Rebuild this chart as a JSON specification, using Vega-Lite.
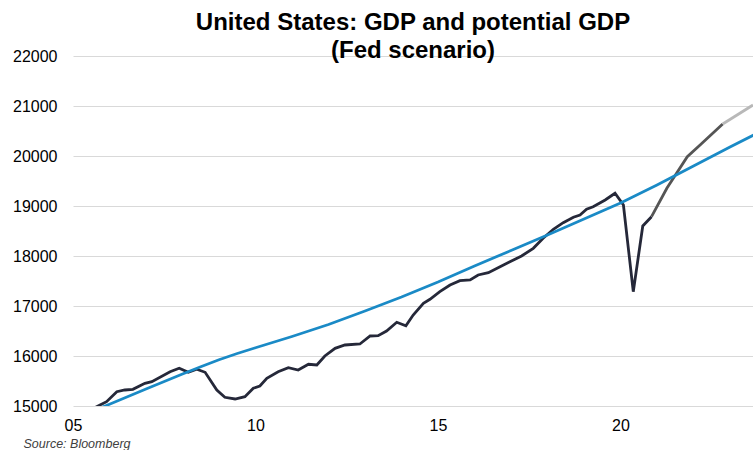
{
  "$schema": "https://vega.github.io/schema/vega-lite/v6.json",
  "width": 680,
  "height": 350,
  "autosize": {"type": "none"},
  "padding": {"left": 73, "top": 56, "right": 0, "bottom": 44},
  "background": "white",
  "title": {
    "text": ["United States: GDP and potential GDP", "(Fed scenario)"],
    "font": "Liberation Sans",
    "fontSize": 24,
    "fontWeight": "bold",
    "color": "#000000",
    "anchor": "middle",
    "lineHeight": 28,
    "offset": -15
  },
  "config": {
    "view": {"stroke": null}
  },
  "data": {
    "values": [
      {"t": 2005.5, "v": 14930, "s": "actual"},
      {"t": 2005.74, "v": 15020, "s": "actual"},
      {"t": 2005.92, "v": 15086, "s": "actual"},
      {"t": 2006.2, "v": 15286, "s": "actual"},
      {"t": 2006.42, "v": 15320, "s": "actual"},
      {"t": 2006.64, "v": 15334, "s": "actual"},
      {"t": 2006.97, "v": 15454, "s": "actual"},
      {"t": 2007.16, "v": 15486, "s": "actual"},
      {"t": 2007.66, "v": 15686, "s": "actual"},
      {"t": 2007.91, "v": 15754, "s": "actual"},
      {"t": 2008.16, "v": 15674, "s": "actual"},
      {"t": 2008.39, "v": 15734, "s": "actual"},
      {"t": 2008.62, "v": 15674, "s": "actual"},
      {"t": 2008.94, "v": 15320, "s": "actual"},
      {"t": 2009.16, "v": 15174, "s": "actual"},
      {"t": 2009.44, "v": 15140, "s": "actual"},
      {"t": 2009.71, "v": 15186, "s": "actual"},
      {"t": 2009.94, "v": 15354, "s": "actual"},
      {"t": 2010.12, "v": 15400, "s": "actual"},
      {"t": 2010.31, "v": 15554, "s": "actual"},
      {"t": 2010.62, "v": 15686, "s": "actual"},
      {"t": 2010.9, "v": 15766, "s": "actual"},
      {"t": 2011.17, "v": 15720, "s": "actual"},
      {"t": 2011.45, "v": 15834, "s": "actual"},
      {"t": 2011.68, "v": 15820, "s": "actual"},
      {"t": 2011.9, "v": 16000, "s": "actual"},
      {"t": 2012.18, "v": 16154, "s": "actual"},
      {"t": 2012.45, "v": 16220, "s": "actual"},
      {"t": 2012.86, "v": 16240, "s": "actual"},
      {"t": 2013.14, "v": 16400, "s": "actual"},
      {"t": 2013.36, "v": 16406, "s": "actual"},
      {"t": 2013.59, "v": 16500, "s": "actual"},
      {"t": 2013.87, "v": 16674, "s": "actual"},
      {"t": 2014.12, "v": 16606, "s": "actual"},
      {"t": 2014.32, "v": 16820, "s": "actual"},
      {"t": 2014.6, "v": 17054, "s": "actual"},
      {"t": 2014.78, "v": 17134, "s": "actual"},
      {"t": 2015.05, "v": 17286, "s": "actual"},
      {"t": 2015.33, "v": 17420, "s": "actual"},
      {"t": 2015.6, "v": 17506, "s": "actual"},
      {"t": 2015.88, "v": 17520, "s": "actual"},
      {"t": 2016.1, "v": 17620, "s": "actual"},
      {"t": 2016.38, "v": 17666, "s": "actual"},
      {"t": 2016.7, "v": 17786, "s": "actual"},
      {"t": 2016.97, "v": 17886, "s": "actual"},
      {"t": 2017.29, "v": 18000, "s": "actual"},
      {"t": 2017.61, "v": 18154, "s": "actual"},
      {"t": 2017.88, "v": 18354, "s": "actual"},
      {"t": 2018.16, "v": 18534, "s": "actual"},
      {"t": 2018.43, "v": 18666, "s": "actual"},
      {"t": 2018.71, "v": 18774, "s": "actual"},
      {"t": 2018.89, "v": 18820, "s": "actual"},
      {"t": 2019.07, "v": 18934, "s": "actual"},
      {"t": 2019.25, "v": 18986, "s": "actual"},
      {"t": 2019.58, "v": 19120, "s": "actual"},
      {"t": 2019.85, "v": 19254, "s": "actual"},
      {"t": 2020.08, "v": 19020, "s": "actual"},
      {"t": 2020.35, "v": 17286, "s": "actual"},
      {"t": 2020.61, "v": 18600, "s": "actual"},
      {"t": 2020.85, "v": 18786, "s": "actual"},
      {"t": 2020.85, "v": 18786, "s": "forecast"},
      {"t": 2021.27, "v": 19354, "s": "forecast"},
      {"t": 2021.83, "v": 19986, "s": "forecast"},
      {"t": 2022.18, "v": 20220, "s": "forecast"},
      {"t": 2022.8, "v": 20640, "s": "forecast"},
      {"t": 2022.8, "v": 20640, "s": "forecast2"},
      {"t": 2023.63, "v": 21020, "s": "forecast2"},
      {"t": 2005.75, "v": 14960, "s": "potential"},
      {"t": 2006, "v": 15035, "s": "potential"},
      {"t": 2007, "v": 15340, "s": "potential"},
      {"t": 2008, "v": 15640, "s": "potential"},
      {"t": 2008.5, "v": 15785, "s": "potential"},
      {"t": 2009, "v": 15925, "s": "potential"},
      {"t": 2009.5, "v": 16050, "s": "potential"},
      {"t": 2010, "v": 16165, "s": "potential"},
      {"t": 2011, "v": 16390, "s": "potential"},
      {"t": 2012, "v": 16630, "s": "potential"},
      {"t": 2013, "v": 16900, "s": "potential"},
      {"t": 2014, "v": 17180, "s": "potential"},
      {"t": 2015, "v": 17480, "s": "potential"},
      {"t": 2016, "v": 17800, "s": "potential"},
      {"t": 2017, "v": 18110, "s": "potential"},
      {"t": 2018, "v": 18420, "s": "potential"},
      {"t": 2019, "v": 18740, "s": "potential"},
      {"t": 2020, "v": 19060, "s": "potential"},
      {"t": 2021, "v": 19420, "s": "potential"},
      {"t": 2022, "v": 19800, "s": "potential"},
      {"t": 2023, "v": 20180, "s": "potential"},
      {"t": 2023.65, "v": 20420, "s": "potential"}
    ]
  },
  "encoding": {
    "x": {
      "field": "t",
      "type": "quantitative",
      "scale": {"domain": [2005, 2023.63], "nice": false, "zero": false},
      "axis": {
        "values": [2005, 2010, 2015, 2020],
        "labelExpr": "format(datum.value % 100, '02d')",
        "grid": false,
        "domain": false,
        "ticks": false,
        "labelFont": "Liberation Sans",
        "labelFontSize": 16,
        "labelColor": "#000000",
        "labelPadding": 11,
        "labelFlush": false,
        "title": "Source: Bloomberg",
        "titleFont": "Liberation Sans",
        "titleFontStyle": "italic",
        "titleFontWeight": "normal",
        "titleFontSize": 12.5,
        "titleColor": "#404040",
        "titleAlign": "left",
        "titleBaseline": "alphabetic",
        "titleX": -50,
        "titleY": 41
      }
    },
    "y": {
      "field": "v",
      "type": "quantitative",
      "scale": {"domain": [15000, 22000], "nice": false, "zero": false},
      "axis": {
        "values": [15000, 16000, 17000, 18000, 19000, 20000, 21000, 22000],
        "format": "d",
        "grid": true,
        "gridColor": "#d9d9d9",
        "gridWidth": 1.2,
        "domain": false,
        "ticks": false,
        "labelFont": "Liberation Sans",
        "labelFontSize": 16,
        "labelColor": "#000000",
        "labelPadding": 16,
        "title": null
      }
    }
  },
  "layer": [
    {
      "transform": [{"filter": "datum.s !== 'potential'"}],
      "mark": {"type": "line", "strokeWidth": 2.8, "clip": true},
      "encoding": {
        "color": {
          "field": "s",
          "type": "nominal",
          "scale": {"domain": ["actual", "forecast", "forecast2"], "range": ["#252839", "#555555", "#b8b8b8"]},
          "legend": null
        }
      }
    },
    {
      "transform": [{"filter": "datum.s === 'potential'"}],
      "mark": {"type": "line", "strokeWidth": 2.8, "clip": true, "color": "#1a8ac6"},
      "encoding": {}
    }
  ]
}
